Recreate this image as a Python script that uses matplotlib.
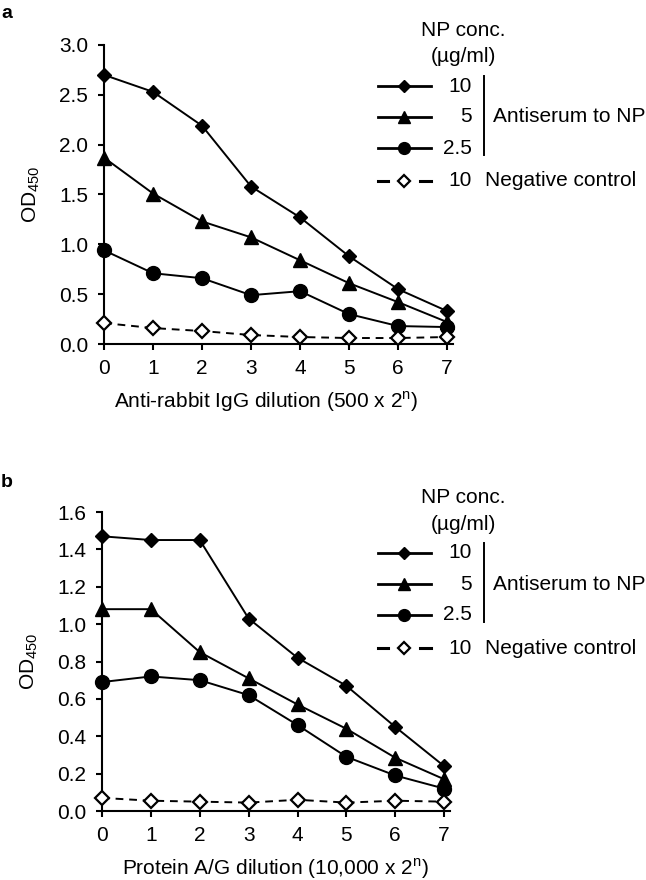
import matplotlib
matplotlib.use("Agg")
import matplotlib.pyplot as plt
from matplotlib.lines import Line2D

plt.rcParams["font.family"] = ["Liberation Sans", "DejaVu Sans"]
plt.rcParams["mathtext.fontset"] = "custom"
plt.rcParams["mathtext.rm"] = "Liberation Sans"
plt.rcParams["font.size"] = 15

# dilution step n (x axis)
dilution = [0, 1, 2, 3, 4, 5, 6, 7]
np_conc = ["10", "5", "2.5", "10"]
group_labels = ["Antiserum to NP", "Negative control"]

# panel a: anti-rabbit IgG dilution (500 x 2^n)
a_np10 = [2.70, 2.53, 2.19, 1.58, 1.27, 0.88, 0.55, 0.33]
a_np5 = [1.87, 1.51, 1.23, 1.07, 0.84, 0.61, 0.42, 0.22]
a_np2_5 = [0.94, 0.71, 0.66, 0.49, 0.53, 0.30, 0.18, 0.17]
a_neg = [0.21, 0.16, 0.13, 0.09, 0.07, 0.06, 0.06, 0.07]

# panel b: protein A/G dilution (10,000 x 2^n)
b_np10 = [1.47, 1.45, 1.45, 1.03, 0.82, 0.67, 0.45, 0.24]
b_np5 = [1.08, 1.08, 0.85, 0.71, 0.57, 0.44, 0.285, 0.17]
b_np2_5 = [0.69, 0.72, 0.70, 0.62, 0.46, 0.29, 0.19, 0.12]
b_neg = [0.07, 0.055, 0.05, 0.045, 0.06, 0.045, 0.055, 0.05]

W, H = 646, 880
FS = 15

# marker, size, filled, dashed
styles = [
    ("D", 7.0, True, False),
    ("^", 9.5, True, False),
    ("o", 10, True, False),
    ("D", 7.2, False, True),
]


def fx(px):
    return px / W


def fy(py):
    return 1 - py / H


def draw_panel(fig, rect, series, ymax, ystep, xlabel, xlab_x, letter, letter_y):
    ax = fig.add_axes(rect)
    for vals, (m, ms, filled, dashed) in zip(series, styles):
        ax.plot(
            dilution, vals,
            color="black", lw=1.4,
            linestyle="--" if dashed else "-",
            dashes=(4, 3) if dashed else (None, None),
            marker=m, markersize=ms,
            markerfacecolor="black" if filled else "white",
            markeredgecolor="black", markeredgewidth=1.0 if filled else 1.6,
            clip_on=False, zorder=3,
        )
    ax.set_xlim(0, 7.12)
    ax.set_ylim(0, ymax)
    ax.set_xticks(dilution)
    yt = [round(i * ystep, 2) for i in range(int(round(ymax / ystep)) + 1)]
    ax.set_yticks(yt)
    ax.set_yticklabels([f"{v:.1f}" for v in yt])
    for s in ["top", "right"]:
        ax.spines[s].set_visible(False)
    for s in ["left", "bottom"]:
        ax.spines[s].set_linewidth(1.5)
    ax.tick_params(axis="both", direction="out", length=4.5, width=1.5, labelsize=FS)
    ax.tick_params(axis="y", pad=7)
    ax.tick_params(axis="x", pad=6)
    ax.set_xlabel(xlabel, fontsize=FS)
    ax.xaxis.set_label_coords(xlab_x, -0.15)
    ax.set_ylabel(r"OD$_{\mathrm{450}}$", fontsize=FS)
    ax.yaxis.set_label_coords(-0.178, 0.5)
    fig.text(fx(1), fy(letter_y), letter, fontsize=14, fontweight="bold", va="baseline")
    return ax


def draw_legend(fig, top):
    # top = pixel row of the axes top
    cx = 463
    fig.text(fx(cx), fy(top - 15), "NP conc.", ha="center", va="center", fontsize=FS)
    fig.text(fx(cx), fy(top + 12), "(\u00b5g/ml)", ha="center", va="center", fontsize=FS)
    rows = [top + 41, top + 72, top + 103, top + 136]
    for (m, ms, filled, dashed), lab, ry in zip(styles, np_conc, rows):
        y = fy(ry)
        if dashed:
            for x0, x1 in [(378, 388), (420, 431)]:
                fig.add_artist(Line2D([fx(x0), fx(x1)], [y, y], color="black",
                                      lw=2.2, transform=fig.transFigure))
        else:
            fig.add_artist(Line2D([fx(378), fx(431)], [y, y], color="black",
                                  lw=2.0, transform=fig.transFigure))
        fig.add_artist(Line2D([fx(404)], [y], marker=m, markersize=ms * 0.85,
                              markerfacecolor="black" if filled else "white",
                              markeredgecolor="black",
                              markeredgewidth=1.0 if filled else 1.6,
                              linestyle="none", transform=fig.transFigure))
        fig.text(fx(472), y, lab, ha="right", va="center", fontsize=FS)
    fig.add_artist(Line2D([fx(484), fx(484)], [fy(top + 31), fy(top + 110)],
                          color="black", lw=1.4, transform=fig.transFigure))
    fig.text(fx(493), fy(top + 72), group_labels[0], ha="left", va="center", fontsize=FS)
    fig.text(fx(485), fy(rows[3]), group_labels[1], ha="left", va="center", fontsize=FS)


fig = plt.figure(figsize=(W / 100, H / 100), dpi=100)

draw_panel(
    fig, [fx(104), fy(344), (453 - 104) / W, (344 - 45) / H],
    [a_np10, a_np5, a_np2_5, a_neg], 3.0, 0.5,
    r"Anti-rabbit IgG dilution (500 x 2$^{\mathrm{n}}$)", 0.464, "a", 18,
)
draw_legend(fig, 45)

draw_panel(
    fig, [fx(102), fy(811), (450 - 102) / W, (811 - 512) / H],
    [b_np10, b_np5, b_np2_5, b_neg], 1.6, 0.2,
    r"Protein A/G dilution (10,000 x 2$^{\mathrm{n}}$)", 0.497, "b", 487,
)
draw_legend(fig, 512)

fig.savefig("out.png", dpi=100)
